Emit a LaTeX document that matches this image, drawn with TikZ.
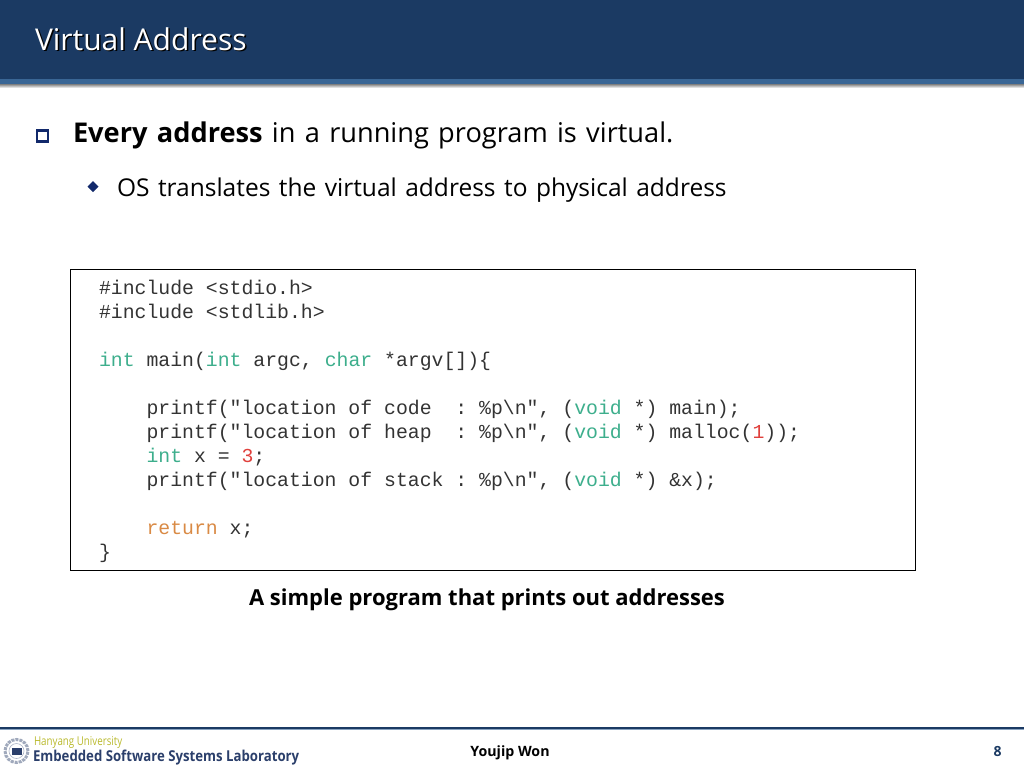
\documentclass[tikz,border=0pt]{standalone}
\usepackage{fontspec}
\setmainfont{Open Sans}
\setmonofont{Liberation Mono}
\usetikzlibrary{positioning,shapes.geometric}
\definecolor{headblue}{HTML}{1B3A63}
\definecolor{barblue}{HTML}{3A6695}
\definecolor{bulletblue}{HTML}{12296B}
\definecolor{kwgreen}{HTML}{3DAE8C}
\definecolor{kwred}{HTML}{E0403C}
\definecolor{kworange}{HTML}{D98A45}
\definecolor{codegray}{HTML}{333333}
\definecolor{labblue}{HTML}{2B3F6B}
\definecolor{hanyang}{HTML}{B9B92C}
\newcommand{\kw}[1]{\textcolor{kwgreen}{#1}}
\newcommand{\wordgap}[1]{\setlength{\spaceskip}{#1}}
\tikzset{
    every node/.style = {inner sep=0pt, outer sep=0pt},
    body/.style = {anchor=base west, text=black, font=\fontsize{27.2}{32}\selectfont},
    subbody/.style = {anchor=base west, text=black, font=\fontsize{24.5}{30}\selectfont},
    codetext/.style = {anchor=north west, align=left, text=codegray,
            font=\fontsize{19.8}{24}\ttfamily},
}
\begin{document}
\begin{tikzpicture}[x=1pt, y=-1pt]
    \useasboundingbox (0,0) rectangle (1024,768);

    % header
    \shade[top color=black!50, bottom color=white] (0,84) rectangle (1024,88);
    \fill[headblue] (0,0) rectangle (1024,79);
    \fill[barblue] (0,79) rectangle (1024,84);
    \node[anchor=base west, font=\fontsize{30}{36}\selectfont, text=black] (titleshadow) at (36.5,51.5) {Virtual Address};
    \node[anchor=base west, font=\fontsize{30}{36}\selectfont, text=white] (title) at (35,50) {Virtual Address};

    % bullets
    \node[draw=bulletblue, line width=2.2pt, minimum size=11pt] (bulletA) at (42.5,136) {};
    \node[body] (lineA) at (73,142) {\wordgap{9.3pt}\textbf{Every address} in a running program is virtual.};
    \node[diamond, fill=bulletblue, minimum size=11pt] (bulletB) at (93,186.5) {};
    \node[subbody] (lineB) at (117,196) {\wordgap{8.5pt}OS translates the virtual address to physical address};

    % code
    \node[draw=black, line width=.9pt, minimum width=845pt, minimum height=300.5pt, anchor=north west] (codebox) at (70,269.5) {};
    \node[codetext] (code) at (99,280) {%
        \#include <stdio.h>\\
        \#include <stdlib.h>\\
        ~\\
        \kw{int} main(\kw{int} argc, \kw{char} *argv[])\{\\
        ~\\
        ~~~~printf("location of code~~: \%p\textbackslash n", (\kw{void} *) main);\\
        ~~~~printf("location of heap~~: \%p\textbackslash n", (\kw{void} *) malloc(\textcolor{kwred}{1}));\\
        ~~~~\kw{int} x = \textcolor{kwred}{3};\\
        ~~~~printf("location of stack : \%p\textbackslash n", (\kw{void} *) \&x);\\
        ~\\
        ~~~~\textcolor{kworange}{return} x;\\
        \}};
    \node[anchor=base, font=\fontsize{22}{26}\bfseries\selectfont] (caption) at (487,605) {A simple program that prints out addresses};

    % footer
    \fill[headblue] (0,727) rectangle (1024,729);
    \fill[barblue!60] (0,729) rectangle (1024,730);
    \node[circle, draw=labblue!45, line width=3pt, densely dotted, minimum size=23pt] (seal) at (16.5,751) {};
    \node[circle, draw=labblue!40, line width=.6pt, minimum size=15pt] (sealring) at (seal) {};
    \node[fill=labblue, minimum width=10pt, minimum height=7pt] (sealmark) at (seal) {};
    \node[anchor=base west, font=\fontsize{12.2}{14}\selectfont, text=hanyang, xscale=.8, transform shape] (school) at (34,745.2) {Hanyang University};
    \node[anchor=base west, font=\fontsize{15}{18}\bfseries\selectfont, text=labblue, xscale=.88, transform shape] (lab) at (33,761.8) {Embedded Software Systems Laboratory};
    \node[anchor=base, font=\fontsize{14.2}{17}\bfseries\selectfont] (author) at (510,756.5) {Youjip Won};
    \node[anchor=base, font=\fontsize{14}{17}\bfseries\selectfont, text=headblue] (pagenum) at (997.5,756.5) {8};
\end{tikzpicture}
\end{document}
